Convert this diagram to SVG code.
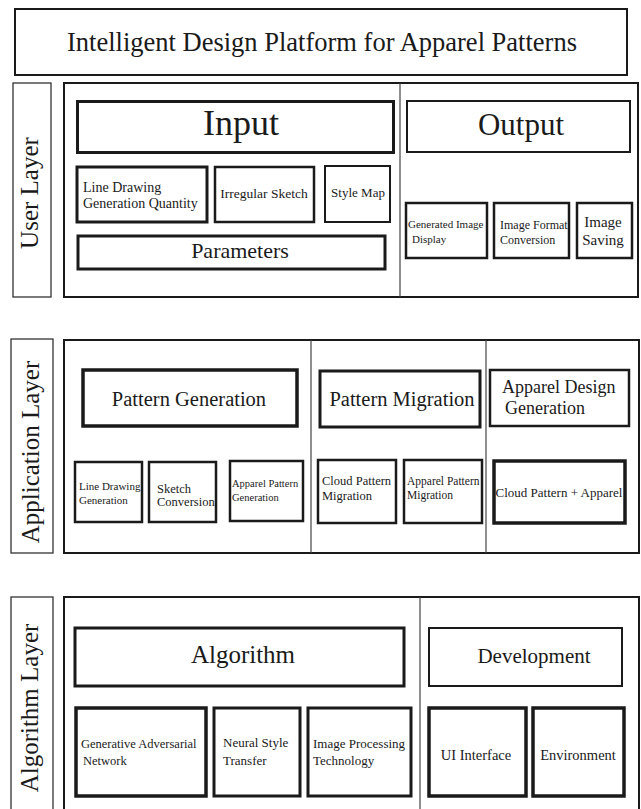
<svg xmlns="http://www.w3.org/2000/svg" width="641" height="809" viewBox="0 0 641 809">
<style>
rect{fill:#fff;stroke:#1a1a1a}
.main{stroke-width:2}
.lbl{stroke:#333;stroke-width:1.3}
.div{stroke:#444;stroke-width:1.2}
.c{text-anchor:middle}
.rot{text-anchor:middle}
</style>
<rect width="641" height="809" style="stroke:none"/>
<g font-family="'Liberation Serif', serif" fill="#1a1a1a">
<g id="title"><rect class="main" x="15" y="9" width="612" height="66"/><text class="c" x="322" y="51" font-size="26.5">Intelligent Design Platform for Apparel Patterns</text></g>

<g id="user-layer-label"><rect class="lbl" x="13" y="83" width="38" height="214"/><text class="rot" font-size="25" transform="translate(38,193) rotate(-90)">User Layer</text></g>
<g id="user-layer"><rect class="main" x="64" y="83" width="574" height="214"/><line class="div" x1="400" y1="83" x2="400" y2="297"/></g>
<g id="input"><rect x="77.5" y="101.5" width="316" height="51" stroke-width="3"/><text class="c" x="241" y="135" font-size="36">Input</text></g>
<g id="line-drawing-quantity"><rect x="77" y="167" width="130" height="55" stroke-width="3"/><text x="83" y="192" font-size="14">Line Drawing</text><text x="83" y="208" font-size="14">Generation Quantity</text></g>
<g id="irregular-sketch"><rect x="215" y="167" width="99" height="55" stroke-width="2.5"/><text class="c" x="264" y="198" font-size="13.5">Irregular Sketch</text></g>
<g id="style-map"><rect x="325" y="166" width="65" height="56" stroke-width="2"/><text class="c" x="358" y="197" font-size="13">Style Map</text></g>
<g id="parameters"><rect x="78" y="236" width="307" height="33" stroke-width="3"/><text class="c" x="240" y="258" font-size="22">Parameters</text></g>
<g id="output"><rect x="407" y="101" width="223" height="51" stroke-width="2"/><text class="c" x="521" y="135" font-size="31">Output</text></g>
<g id="generated-image-display"><rect x="406" y="203" width="81" height="55" stroke-width="2.5"/><text x="408" y="228" font-size="11">Generated Image</text><text x="412" y="243" font-size="11">Display</text></g>
<g id="image-format-conversion"><rect x="494" y="203" width="75" height="55" stroke-width="2.5"/><text x="500" y="229" font-size="12">Image Format</text><text x="500" y="244" font-size="12">Conversion</text></g>
<g id="image-saving"><rect x="577" y="203" width="55" height="55" stroke-width="2.5"/><text class="c" x="603" y="227" font-size="15">Image</text><text class="c" x="603" y="245" font-size="15">Saving</text></g>

<g id="application-layer-label"><rect class="lbl" x="11" y="339" width="42" height="214"/><text class="rot" font-size="25" transform="translate(39,452) rotate(-90)">Application Layer</text></g>
<g id="application-layer"><rect class="main" x="64" y="340" width="575" height="213"/><line class="div" x1="311" y1="340" x2="311" y2="553"/><line class="div" x1="486" y1="340" x2="486" y2="553"/></g>
<g id="pattern-generation"><rect x="83" y="370" width="214" height="56" stroke-width="3.5"/><text class="c" x="189" y="406" font-size="20.5">Pattern Generation</text></g>
<g id="line-drawing-generation"><rect x="75" y="462" width="67" height="60" stroke-width="2.5"/><text x="79" y="490" font-size="11">Line Drawing</text><text x="79" y="504" font-size="11">Generation</text></g>
<g id="sketch-conversion"><rect x="149" y="462" width="67" height="60" stroke-width="2.5"/><text x="157" y="493" font-size="12.5">Sketch</text><text x="157" y="506" font-size="12.5">Conversion</text></g>
<g id="apparel-pattern-generation"><rect x="230" y="461" width="73" height="60" stroke-width="2.5"/><text x="232" y="487" font-size="10.5">Apparel Pattern</text><text x="232" y="501" font-size="10.5">Generation</text></g>
<g id="pattern-migration"><rect x="320" y="371" width="160" height="56" stroke-width="3"/><text class="c" x="402" y="406" font-size="20.5">Pattern Migration</text></g>
<g id="apparel-design-generation"><rect x="490" y="370" width="139" height="56" stroke-width="2.5"/><text x="502" y="393" font-size="18">Apparel Design</text><text x="505" y="414" font-size="18">Generation</text></g>
<g id="cloud-pattern-migration"><rect x="318" y="460" width="78" height="63" stroke-width="2.5"/><text x="322" y="485" font-size="12.5">Cloud Pattern</text><text x="322" y="500" font-size="12.5">Migration</text></g>
<g id="apparel-pattern-migration"><rect x="404" y="460" width="78" height="63" stroke-width="2.5"/><text x="407" y="485" font-size="11.5">Apparel Pattern</text><text x="407" y="499" font-size="11.5">Migration</text></g>
<g id="cloud-pattern-apparel"><rect x="494" y="461" width="131" height="62" stroke-width="3.5"/><text class="c" x="559" y="497" font-size="13">Cloud Pattern + Apparel</text></g>

<g id="algorithm-layer-label"><rect class="lbl" x="11" y="597" width="42" height="230"/><text class="rot" font-size="25" transform="translate(38,708) rotate(-90)">Algorithm Layer</text></g>
<g id="algorithm-layer"><rect class="main" x="64" y="597" width="575" height="230"/><line class="div" x1="420" y1="597" x2="420" y2="809"/></g>
<g id="algorithm"><rect x="75" y="628" width="329" height="58" stroke-width="3"/><text class="c" x="243" y="663" font-size="25">Algorithm</text></g>
<g id="development"><rect x="429" y="628" width="193" height="58" stroke-width="2"/><text class="c" x="534" y="663" font-size="21">Development</text></g>
<g id="gan"><rect x="76" y="708" width="130" height="88" stroke-width="3.5"/><text x="81" y="748" font-size="12.5">Generative Adversarial</text><text x="83" y="765" font-size="12.5">Network</text></g>
<g id="neural-style-transfer"><rect x="214" y="708" width="86" height="88" stroke-width="3"/><text x="223" y="747" font-size="13">Neural Style</text><text x="223" y="765" font-size="13">Transfer</text></g>
<g id="image-processing"><rect x="308" y="708" width="103" height="88" stroke-width="3"/><text x="313" y="748" font-size="13">Image Processing</text><text x="313" y="765" font-size="13">Technology</text></g>
<g id="ui-interface"><rect x="429" y="708" width="97" height="88" stroke-width="3.5"/><text class="c" x="476" y="760" font-size="14.5">UI Interface</text></g>
<g id="environment"><rect x="533" y="708" width="91" height="88" stroke-width="3.5"/><text class="c" x="578" y="760" font-size="14.5">Environment</text></g>
</g>
</svg>
